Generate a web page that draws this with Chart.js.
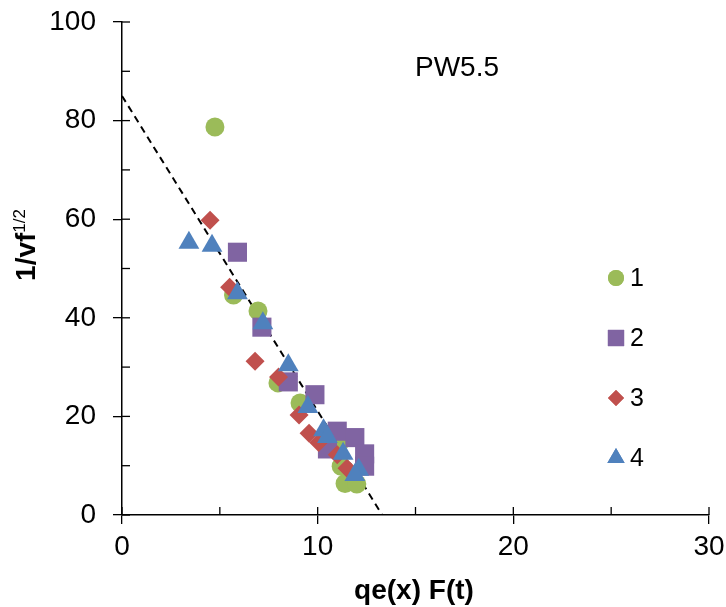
<!DOCTYPE html>
<html>
<head>
<meta charset="utf-8">
<script src="https://cdn.jsdelivr.net/npm/chart.js@4/dist/chart.umd.min.js"></script>
<style>
  html, body { margin: 0; padding: 0; background: #fff; }
  #wrap { width: 726px; height: 607px; position: relative; }
</style>
</head>
<body>
<div id="wrap"><canvas id="myChart" width="726" height="607"></canvas></div>
<script>
// data
var seriesNames = ['1', '2', '3', '4'];
var x1 = [4.75, 5.7, 6.95, 7.97, 9.1, 11.1, 11.2, 11.4, 12.0];
var y1 = [78.7, 44.6, 41.4, 26.8, 22.7, 14.6, 9.9, 6.4, 6.3];
var x2 = [5.9, 7.15, 8.5, 9.86, 10.5, 11.0, 11.9, 12.4, 12.4];
var y2 = [53.3, 38.1, 27.0, 24.4, 13.4, 17.0, 15.7, 12.4, 9.9];
var x3 = [4.5, 5.5, 6.8, 8.0, 9.05, 9.56, 10.05, 11.0, 11.5];
var y3 = [59.8, 46.2, 31.2, 28.0, 20.3, 16.6, 14.7, 12.2, 9.5];
var x4 = [3.42, 4.6, 5.9, 7.2, 8.5, 9.5, 10.3, 10.5, 11.3, 12.1, 11.9];
var y4 = [55.2, 54.6, 45.0, 38.9, 30.4, 21.9, 17.2, 15.8, 12.4, 9.2, 8.1];
var trendX = [0, 13.3];
var trendY = [85, 0];
var xTicks = [0, 10, 20, 30];
var yTicks = [0, 20, 40, 60, 80, 100];
var chartLabel = 'PW5.5';

var colors = ['#9BBB59', '#8064A2', '#C0504D', '#4F81BD'];
var shapes = ['circle', 'rect', 'rectRot', 'triangle'];
var sizes = [9.5, 13.5, 9.5, 12];
var legendSizes = [8, 11.5, 8, 10];

function pts(xs, ys) {
    var out = [];
    for (let i = 0; i < xs.length; i++) {
        out.push({x: xs[i], y: ys[i]});
    }
    return out;
}

var allX = [x1, x2, x3, x4];
var allY = [y1, y2, y3, y4];
var datasets = [];
for (let i = 0; i < 4; i++) {
    datasets.push({
        label: seriesNames[i],
        data: pts(allX[i], allY[i]),
        pointStyle: shapes[i],
        pointRadius: sizes[i],
        pointHoverRadius: sizes[i],
        backgroundColor: colors[i],
        borderColor: colors[i],
        borderWidth: 0,
        showLine: false,
        order: 4 - i
    });
}
datasets.push({
    label: 'trend',
    type: 'line',
    data: pts(trendX, trendY),
    borderColor: '#000',
    borderWidth: 2,
    borderDash: [7, 5],
    pointRadius: 0,
    fill: false,
    order: 10
});

var FONT = "'Liberation Sans', Arial, sans-serif";

var extras = {
    id: 'extras',
    afterDraw: function(chart) {
        var ctx = chart.ctx;
        var xs = chart.scales.x, ys = chart.scales.y;
        var area = chart.chartArea;
        ctx.save();
        ctx.strokeStyle = '#000';
        ctx.lineWidth = 1.3;
        // inside ticks (major + minor)
        for (let v = 0; v <= 30; v += 5) {
            var px = xs.getPixelForValue(v);
            ctx.beginPath();
            ctx.moveTo(px, area.bottom);
            ctx.lineTo(px, area.bottom - 8);
            ctx.stroke();
        }
        for (let v = 0; v <= 100; v += 10) {
            var py = ys.getPixelForValue(v);
            ctx.beginPath();
            ctx.moveTo(area.left, py);
            ctx.lineTo(area.left + 8, py);
            ctx.stroke();
        }
        // chart label
        ctx.fillStyle = '#000';
        ctx.font = '28px ' + FONT;
        ctx.textBaseline = 'middle';
        ctx.textAlign = 'left';
        ctx.fillText(chartLabel, 415, 68);
        // x title
        ctx.font = 'bold 28px ' + FONT;
        ctx.textAlign = 'center';
        ctx.fillText('qe(x) F(t)', 414, 591);
        // y title with superscript
        ctx.save();
        ctx.translate(27, 245);
        ctx.rotate(-Math.PI / 2);
        ctx.font = 'bold 28px ' + FONT;
        var w1 = ctx.measureText('1/vf').width;
        ctx.font = '17px ' + FONT;
        var w2 = ctx.measureText('1/2').width;
        var start = -(w1 + w2) / 2;
        ctx.textAlign = 'left';
        ctx.font = 'bold 28px ' + FONT;
        ctx.fillText('1/vf', start, 0);
        ctx.font = '17px ' + FONT;
        ctx.fillText('1/2', start + w1, -7);
        ctx.restore();
        // legend
        var ly = [278, 338, 398, 458];
        for (let i = 0; i < 4; i++) {
            ctx.fillStyle = colors[i];
            Chart.helpers.drawPoint(ctx, {pointStyle: shapes[i], radius: legendSizes[i], rotation: 0, borderWidth: 0}, 616, ly[i]);
            ctx.fill();
            ctx.fillStyle = '#000';
            ctx.font = '25px ' + FONT;
            ctx.textAlign = 'left';
            ctx.fillText(seriesNames[i], 630, ly[i] + 1);
        }
        ctx.restore();
    }
};

var tickFont = {family: FONT, size: 28};
var myChart = new Chart(document.getElementById('myChart'), {
    type: 'scatter',
    data: {datasets: datasets},
    plugins: [extras],
    options: {
        responsive: false,
        animation: false,
        layout: {padding: {top: 22, right: 17, left: 0, bottom: 0}},
        plugins: {legend: {display: false}, tooltip: {enabled: false}},
        scales: {
            x: {
                type: 'linear', min: 0, max: 30,
                afterBuildTicks: function(s) { s.ticks = xTicks.map(function(v) { return {value: v}; }); },
                afterFit: function(s) { s.height = 92; s.paddingLeft = 0; s.paddingRight = 0; },
                ticks: {font: tickFont, color: '#000', padding: 6, maxRotation: 0},
                grid: {display: true, drawOnChartArea: false, drawTicks: true, tickLength: 9, color: '#000', lineWidth: 1.3},
                border: {color: '#000', width: 1.5}
            },
            y: {
                type: 'linear', min: 0, max: 100,
                afterBuildTicks: function(s) { s.ticks = yTicks.map(function(v) { return {value: v}; }); },
                afterFit: function(s) { s.width = 122; s.paddingTop = 0; s.paddingBottom = 0; },
                ticks: {font: tickFont, color: '#000', padding: 17},
                grid: {display: true, drawOnChartArea: false, drawTicks: true, tickLength: 9, color: '#000', lineWidth: 1.3},
                border: {color: '#000', width: 1.5}
            }
        }
    }
});
</script>
</body>
</html>
